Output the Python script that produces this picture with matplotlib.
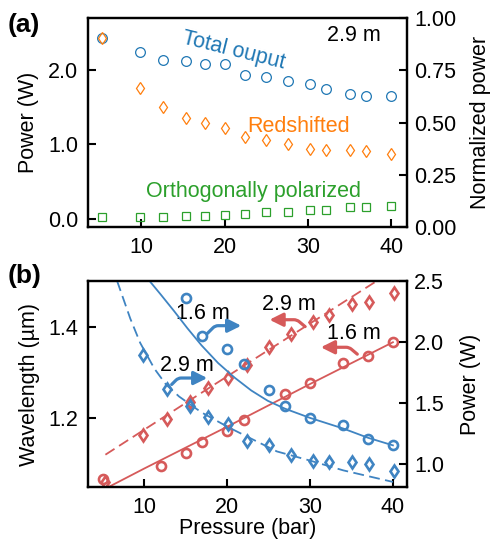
import matplotlib
matplotlib.use("Agg")
import matplotlib.pyplot as plt

plt.rcParams['font.family'] = ['Liberation Sans', 'DejaVu Sans']

# ---------------- data: panel (a), 2.9 m fibre ----------------
pressure_a = [5.3, 9.8, 12.6, 15.4, 17.6, 20.0, 22.4, 25.0, 27.6, 30.2, 32.2, 35.0, 37.0, 40.0]
total_output = [2.44, 2.24, 2.14, 2.12, 2.08, 2.08, 1.94, 1.91, 1.85, 1.81, 1.75, 1.685, 1.65, 1.65]
redshifted = [2.44, 1.76, 1.50, 1.36, 1.285, 1.22, 1.105, 1.065, 1.00, 0.945, 0.93, 0.93, 0.91, 0.865]
orthogonal = [0.02, 0.02, 0.02, 0.03, 0.04, 0.055, 0.065, 0.085, 0.095, 0.12, 0.12, 0.15, 0.16, 0.165]

# ---------------- data: panel (b) ----------------
# 1.6 m fibre
p16_wl = [5.0, 12.0, 15.0, 17.0, 20.0, 22.0, 27.0, 30.0, 34.0, 37.0, 40.0]
wl16 = [1.067, 1.097, 1.124, 1.149, 1.173, 1.197, 1.253, 1.277, 1.320, 1.335, 1.366]
p16_pw = [15.0, 17.0, 20.0, 22.0, 25.0, 27.0, 30.0, 34.0, 37.0, 40.0]
pw16 = [2.355, 2.045, 1.94, 1.815, 1.60, 1.47, 1.372, 1.317, 1.20, 1.153]
# 2.9 m fibre
p29_wl = [5.3, 9.8, 12.7, 15.5, 17.7, 20.1, 22.4, 25.1, 27.7, 30.3, 32.3, 35.1, 37.1, 40.1]
wl29 = [1.061, 1.164, 1.199, 1.235, 1.266, 1.288, 1.317, 1.356, 1.384, 1.409, 1.425, 1.449, 1.454, 1.473]
p29_pw = [9.8, 12.7, 15.5, 17.7, 20.1, 22.4, 25.1, 27.7, 30.3, 32.3, 35.1, 37.1, 40.1]
pw29 = [1.888, 1.608, 1.471, 1.385, 1.325, 1.186, 1.15, 1.068, 1.022, 1.01, 1.01, 0.993, 0.943]

# fitted curves
fit16_wl_p = [5.4, 10.0, 20.0, 30.0, 40.0]
fit16_wl = [1.048, 1.091, 1.182, 1.275, 1.366]
fit29_wl_p = [5.3, 17.6, 38.1]
fit29_wl = [1.121, 1.264, 1.500]
fit16_pw_p = [10.6, 12.0, 13.6, 15.2, 16.9, 18.9, 20.9, 22.9, 24.9, 27.0, 30.0, 34.0, 37.0, 40.0]
fit16_pw = [2.50, 2.385, 2.25, 2.11, 1.97, 1.825, 1.705, 1.60, 1.515, 1.45, 1.375, 1.288, 1.212, 1.15]
fit29_pw_p = [6.7, 8.3, 9.5, 11.2, 12.6, 14.2, 16.9, 20.1, 22.3, 26.0, 30.0, 34.0, 40.0]
fit29_pw = [2.50, 2.19, 1.99, 1.78, 1.65, 1.55, 1.42, 1.30, 1.225, 1.10, 1.025, 0.945, 0.85]

xticks = [10, 20, 30, 40]

C_BLUE_A, C_ORANGE, C_GREEN = '#1f77b4', '#ff7f0e', '#2ca02c'
C_RED, C_BLUE = '#d65a5a', '#3f84c2'
FS = 15.5

fig = plt.figure(figsize=(4.91, 5.43), dpi=100)
L, W = 88 / 491, 319 / 491
axa = fig.add_axes([L, 1 - 227 / 543, W, 208.7 / 543])
axb = fig.add_axes([L, 1 - 487.3 / 543, W, 206.6 / 543])


def style(ax):
    for s in ax.spines.values():
        s.set_linewidth(1.6)
    ax.tick_params(direction='in', length=6, width=1.5, labelsize=FS, pad=7)


# ---------------- panel (a) ----------------
axa.plot(pressure_a, total_output, 'o', ms=7, mfc='none', mec=C_BLUE_A, mew=0.9)
axa.plot(pressure_a, orthogonal, 's', ms=5.3, mfc='none', mec=C_GREEN, mew=0.9)
axa.plot(pressure_a, redshifted, 'd', ms=6.3, mfc='none', mec=C_ORANGE, mew=0.9)
axa.set_xlim(3.6, 41.9)
axa.set_ylim(-0.113, 2.70)
axa.set_xticks(xticks)
axa.set_yticks([0.0, 1.0, 2.0])
axa.set_yticklabels(['0.0', '1.0', '2.0'])
axa.set_ylabel('Power (W)', fontsize=FS)
axa.yaxis.set_label_coords(-0.155, 0.5)
style(axa)
axa.text(21.1, 2.27, 'Total ouput', color=C_BLUE_A, fontsize=FS, rotation=-14,
         ha='center', va='center', rotation_mode='anchor')
axa.text(28.9, 1.244, 'Redshifted', color=C_ORANGE, fontsize=FS, ha='center', va='center')
axa.text(23.45, 0.36, 'Orthogonally polarized', color=C_GREEN, fontsize=FS, ha='center', va='center')
axa.text(35.5, 2.47, '2.9 m', color='black', fontsize=FS, ha='center', va='center')

axa2 = axa.twinx()
axa2.set_ylim(0, 1)
axa2.set_yticks([0, 0.25, 0.5, 0.75, 1.0])
axa2.set_yticklabels(['0.00', '0.25', '0.50', '0.75', '1.00'])
axa2.set_ylabel('Normalized power', fontsize=FS)
axa2.yaxis.set_label_coords(1.196, 0.5)
style(axa2)
axa2.tick_params(pad=5)

# ---------------- panel (b) ----------------
axb.plot(fit16_wl_p, fit16_wl, '-', color=C_RED, lw=1.3)
axb.plot(fit29_wl_p, fit29_wl, '--', color=C_RED, lw=1.3, dashes=(6, 3))
axb.plot(p16_wl, wl16, 'o', ms=6.5, mfc='none', mec=C_RED, mew=1.9)
axb.plot(p29_wl, wl29, 'd', ms=6.5, mfc='none', mec=C_RED, mew=1.9)
axb.set_xlim(3.2, 41.7)
axb.set_ylim(1.05, 1.50)
axb.set_xticks(xticks)
axb.set_yticks([1.2, 1.4])
axb.set_xlabel('Pressure (bar)', fontsize=FS)
axb.xaxis.set_label_coords(0.5, -0.148)
axb.set_ylabel('Wavelength (µm)', fontsize=FS)
axb.yaxis.set_label_coords(-0.15, 0.5)
style(axb)

axb2 = axb.twinx()
axb2.plot(fit16_pw_p, fit16_pw, '-', color=C_BLUE, lw=1.3)
axb2.plot(fit29_pw_p, fit29_pw, '--', color=C_BLUE, lw=1.3, dashes=(6, 3))
axb2.plot(p16_pw, pw16, 'o', ms=6.5, mfc='none', mec=C_BLUE, mew=1.9)
axb2.plot(p29_pw, pw29, 'd', ms=6.5, mfc='none', mec=C_BLUE, mew=1.9)
axb2.set_ylim(0.806, 2.5)
axb2.set_yticks([1.0, 1.5, 2.0, 2.5])
axb2.set_ylabel('Power (W)', fontsize=FS)
axb2.yaxis.set_label_coords(1.166, 0.5)
style(axb2)
axb2.tick_params(pad=5)

arrow_kw = dict(arrowstyle='-|>,head_length=0.8,head_width=0.4', lw=2.3,
                shrinkA=0, shrinkB=0, mutation_scale=10)

# annotation arrows (positions in left-axis data coordinates)
axb.text(17.1, 1.428, '1.6 m', fontsize=FS, ha='center', va='center')
axb.annotate('', xy=(21.7, 1.402), xytext=(17.6, 1.385),
             arrowprops=dict(color=C_BLUE, connectionstyle='angle,angleA=45,angleB=0,rad=3', **arrow_kw))
axb.text(15.1, 1.315, '2.9 m', fontsize=FS, ha='center', va='center')
axb.annotate('', xy=(17.6, 1.288), xytext=(13.3, 1.274),
             arrowprops=dict(color=C_BLUE, connectionstyle='angle,angleA=45,angleB=0,rad=3', **arrow_kw))
axb.text(27.4, 1.448, '2.9 m', fontsize=FS, ha='center', va='center')
axb.annotate('', xy=(25.1, 1.415), xytext=(29.4, 1.400),
             arrowprops=dict(color=C_RED, connectionstyle='angle,angleA=140,angleB=0,rad=3', **arrow_kw))
axb.text(35.3, 1.384, '1.6 m', fontsize=FS, ha='center', va='center')
axb.annotate('', xy=(31.3, 1.355), xytext=(35.7, 1.340),
             arrowprops=dict(color=C_RED, connectionstyle='angle,angleA=140,angleB=0,rad=3', **arrow_kw))

fig.text(8 / 491, 1 - 25 / 543, '(a)', fontsize=19, fontweight='bold', ha='left', va='center')
fig.text(8 / 491, 1 - 276 / 543, '(b)', fontsize=19, fontweight='bold', ha='left', va='center')

fig.savefig('out.png', dpi=100)
